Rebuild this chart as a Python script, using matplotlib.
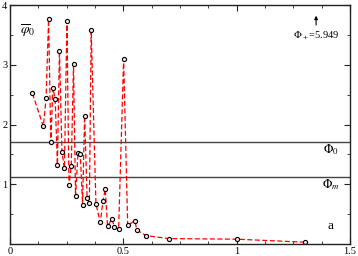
import matplotlib
matplotlib.use("Agg")
import matplotlib.pyplot as plt
from matplotlib.ticker import MultipleLocator

x_vals = [0.099, 0.147, 0.159, 0.17, 0.18, 0.189, 0.199, 0.209, 0.218, 0.229,
          0.24, 0.251, 0.26, 0.27, 0.28, 0.289, 0.30, 0.31, 0.32, 0.329,
          0.34, 0.35, 0.358, 0.379, 0.398, 0.41, 0.42, 0.43, 0.45, 0.46,
          0.479, 0.501, 0.519, 0.55, 0.56, 0.60, 0.70, 1.0, 1.30]
y_vals = [2.52, 1.97, 2.44, 3.76, 1.70, 2.61, 2.43, 1.33, 3.24, 1.54,
          1.27, 3.74, 0.98, 1.30, 3.01, 0.80, 1.53, 1.51, 0.66, 2.15,
          0.77, 0.69, 3.58, 0.67, 0.36, 0.72, 0.92, 0.30, 0.42, 0.28,
          0.25, 3.10, 0.31, 0.39, 0.23, 0.14, 0.09, 0.08, 0.03]
phi_0 = 1.71
phi_m = 1.12
phi_plus_label = r"$\Phi_+$=5.949"

plt.rcParams['font.family'] = ['Liberation Serif', 'DejaVu Serif']
plt.rcParams['mathtext.fontset'] = 'stix'

fig = plt.figure(figsize=(3.58, 2.56), dpi=100)
ax = fig.add_axes([0.028, 0.047, 0.950, 0.933])

ax.axhline(phi_0, color='#444444', lw=1.0)
ax.axhline(phi_m, color='#444444', lw=1.0)

ax.plot(x_vals, y_vals, color='red', lw=0.9, dashes=(4, 2),
        marker='o', markersize=3.0, markerfacecolor='#f0e0e0',
        markeredgecolor='black', markeredgewidth=0.8)

ax.set_xlim(0, 1.5)
ax.set_ylim(0, 4)
ax.xaxis.set_major_locator(MultipleLocator(0.5))
ax.xaxis.set_minor_locator(MultipleLocator(0.125))
ax.yaxis.set_major_locator(MultipleLocator(1))
ax.yaxis.set_minor_locator(MultipleLocator(0.5))
ax.tick_params(which='both', direction='in', top=True, right=True, labelsize=7.5, pad=2, color='#222222')
ax.tick_params(which='major', length=4)
ax.tick_params(which='minor', length=2.5)
ax.set_xticks([0, 0.5, 1, 1.5])
ax.set_xticklabels(['0', '0.5', '1', '1.5'])
ax.set_yticks([1, 2, 3, 4])
ax.set_yticklabels(['1', '2', '3', '4'])
for s in ax.spines.values():
    s.set_color('#222222')
    s.set_linewidth(1.0)

ax.text(0.042, 3.5, r"$\overline{\varphi}_0$", fontsize=10)
ax.annotate("", xy=(1.35, 3.87), xytext=(1.35, 3.62),
            arrowprops=dict(arrowstyle='-|>', color='black', lw=0.8, mutation_scale=5))
ax.text(1.35, 3.48, phi_plus_label, fontsize=7.5, ha='center', va='center')
ax.text(1.415, 1.58, r"$\Phi_0$", fontsize=9, ha='center', va='center')
ax.text(1.415, 1.0, r"$\Phi_m$", fontsize=9, ha='center', va='center')
ax.text(1.415, 0.3, "a", fontsize=9.5, ha='center', va='center')

fig.savefig("out.png", dpi=100)
